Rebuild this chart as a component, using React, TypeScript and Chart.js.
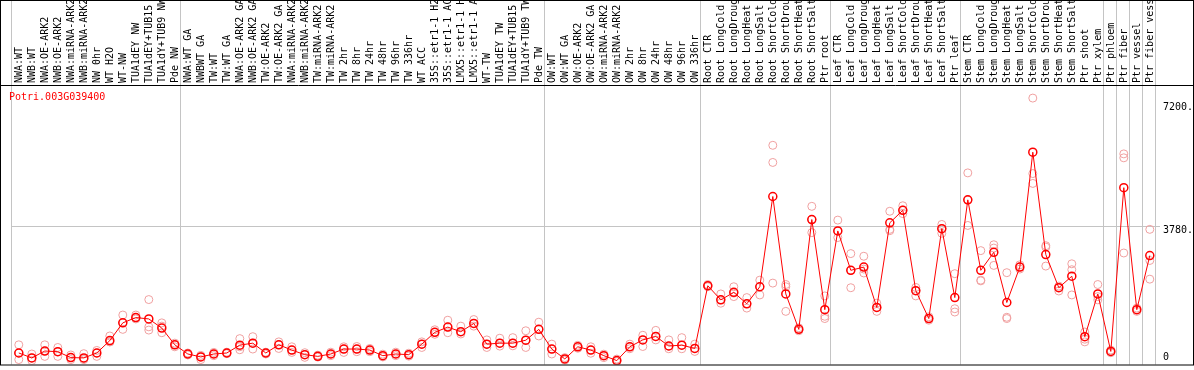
import React, { useEffect, useRef } from 'react';
import { Chart, registerables } from 'chart.js';

Chart.register(...registerables);

const GENE = 'Potri.003G039400';

const CATEGORIES = [
  'NWA:WT', 'NWB:WT', 'NWA:OE-ARK2', 'NWB:OE-ARK2', 'NWA:miRNA-ARK2', 'NWB:miRNA-ARK2',
  'NW 0hr', 'WT H2O', 'WT-NW', 'TUA1dEY NW', 'TUA1dEY+TUB15 NW', 'TUA1dY+TUB9 NW', 'Pde NW',
  'NWA:WT GA', 'NWBWT GA', 'TW:WT', 'TW:WT GA', 'NWA:OE-ARK2 GA', 'NWB:OE-ARK2 GA',
  'TW:OE-ARK2', 'TW:OE-ARK2 GA', 'NWA:miRNA-ARK2 GA', 'NWB:miRNA-ARK2 GA', 'TW:miRNA-ARK2',
  'TW:miRNA-ARK2 GA', 'TW 2hr', 'TW 8hr', 'TW 24hr', 'TW 48hr', 'TW 96hr', 'TW 336hr', 'WT ACC',
  '35S::etr1-1 H2O', '35S::etr1-1 ACC', 'LMX5::etr1-1 H2O', 'LMX5::etr1-1 ACC', 'WT-TW',
  'TUA1dEY TW', 'TUA1dEY+TUB15 TW', 'TUA1dY+TUB9 TW', 'Pde TW',
  'OW:WT', 'OW:WT GA', 'OW:OE-ARK2', 'OW:OE-ARK2 GA', 'OW:miRNA-ARK2', 'OW:miRNA-ARK2 GA',
  'OW 2hr', 'OW 8hr', 'OW 24hr', 'OW 48hr', 'OW 96hr', 'OW 336hr',
  'Root CTR', 'Root LongCold', 'Root LongDrought', 'Root LongHeat', 'Root LongSalt',
  'Root ShortCold', 'Root ShortDrought', 'Root ShortHeat', 'Root ShortSalt', 'Ptr root',
  'Leaf CTR', 'Leaf LongCold', 'Leaf LongDrought', 'Leaf LongHeat', 'Leaf LongSalt',
  'Leaf ShortCold', 'Leaf ShortDrought', 'Leaf ShortHeat', 'Leaf ShortSalt', 'Ptr leaf',
  'Stem CTR', 'Stem LongCold', 'Stem LongDrought', 'Stem LongHeat', 'Stem LongSalt',
  'Stem ShortCold', 'Stem ShortDrought', 'Stem ShortHeat', 'Stem ShortSalt', 'Ptr shoot',
  'Ptr xylem', 'Ptr phloem', 'Ptr fiber', 'Ptr vessel', 'Ptr fiber vessel',
];

const MEANS = [
  239, 102, 294, 275, 110, 102, 239, 585, 1079, 1227, 1189, 933, 467,
  211, 129, 211, 239, 458, 513, 239, 467, 321, 192, 145, 211, 349, 349, 321, 165, 211, 192, 486,
  815, 961, 832, 1062, 486, 513, 513, 596, 898,
  349, 74, 412, 321, 165, 27, 412, 604, 700, 434, 458, 365,
  2114, 1721, 1930, 1611, 2086, 4603, 1886, 898, 3961, 1447,
  3643, 2545, 2635, 1510, 3870, 4219, 1976, 1200, 3706, 1784,
  4510, 2545, 3047, 1647, 2635, 5839, 2984, 2059, 2380, 694, 1886,
  283, 4850, 1447, 2956,
];

const REPLICATES = [
  [467, 239, 55], [211, 102, 27], [467, 294, 145], [393, 275, 145], [184, 110, 55],
  [220, 82, 55], [310, 239, 145], [714, 549, 549], [1298, 1079, 898], [1298, 1227, 1189],
  [1729, 969, 878], [1079, 988, 804], [513, 467, 412],
  [239, 211, 184], [173, 137, 55], [255, 211, 165], [261, 239, 220], [640, 412, 329],
  [694, 513, 349], [261, 239, 211], [549, 467, 365], [412, 321, 255], [247, 192, 118],
  [178, 145, 124], [261, 211, 165], [412, 349, 255], [420, 349, 275], [365, 321, 275],
  [206, 165, 129], [261, 211, 165], [233, 192, 151], [549, 486, 393], [887, 815, 760],
  [1153, 961, 804], [988, 832, 769], [1172, 1062, 988], [604, 486, 393], [651, 513, 431],
  [667, 513, 439], [859, 596, 393], [1098, 898, 714],
  [486, 349, 211], [110, 74, 41], [453, 412, 371], [412, 321, 233], [206, 165, 110],
  [69, 27, 0], [486, 412, 357], [733, 604, 420], [870, 694, 604], [604, 431, 357],
  [667, 458, 357], [486, 365, 283],
  [2149, 2114, 2086], [1886, 1721, 1628], [2086, 1908, 1812], [1784, 1611, 1491],
  [2270, 2086, 1858], [6031, 5553, 2188], [2149, 2086, 1400], [942, 898, 859],
  [4329, 3961, 3596], [1831, 1263, 1200],
  [3945, 3643, 3459], [3011, 2545, 2059], [2937, 2580, 2471], [1628, 1510, 1400],
  [4192, 3687, 3651], [4345, 4227, 4126], [2067, 1976, 1831], [1249, 1200, 1153],
  [3824, 3706, 3577], [2451, 1474, 1381],
  [5262, 4502, 3796], [3094, 2270, 2251], [3258, 3165, 2682], [2479, 1235, 1200],
  [2698, 2635, 2580], [7348, 5243, 4968], [3231, 3192, 2663], [2105, 2059, 1968],
  [2726, 2561, 1858], [824, 623, 549], [2149, 1812, 1721],
  [321, 283, 247], [5792, 5682, 3028], [1491, 1447, 1400], [3687, 2819, 2298],
];

const Y_TICKS = [0, 3780, 7200];
const Y_TICK_LABELS = ['0', '3780.', '7200.'];
const GROUP_BOUNDARIES = [0, 13, 41, 53, 63, 73, 84, 85, 86, 87, 88];

const X_SHIFT = 0.6;
const Y_MIN = -82;
const Y_MAX = 7713;
const FONT = 'DejaVu Sans Mono';
const GRID = '#c4c4c4';

const decorPlugin = {
  id: 'decor',
  beforeDatasetsDraw(chart: any) {
    const { ctx, chartArea, scales } = chart;
    const xs = scales.x;
    ctx.save();
    ctx.strokeStyle = GRID;
    ctx.lineWidth = 1;
    GROUP_BOUNDARIES.forEach((b) => {
      const px = Math.round(xs.getPixelForValue(b - X_SHIFT)) + 0.5;
      ctx.beginPath();
      ctx.moveTo(px, 0);
      ctx.lineTo(px, chartArea.bottom);
      ctx.stroke();
    });
    ctx.restore();
  },
  afterDraw(chart: any) {
    const { ctx, chartArea, scales, width } = chart;
    const ys = scales.y;
    ctx.save();
    ctx.strokeStyle = '#000';
    ctx.lineWidth = 1;
    ctx.strokeRect(0.5, 0.5, width - 1, chartArea.bottom);
    ctx.beginPath();
    ctx.moveTo(0, Math.round(chartArea.top) + 0.5);
    ctx.lineTo(width, Math.round(chartArea.top) + 0.5);
    ctx.stroke();

    ctx.font = `10px "${FONT}"`;
    ctx.textBaseline = 'middle';
    ctx.textAlign = 'left';
    ctx.fillStyle = '#000';
    Y_TICKS.forEach((v, i) => {
      const py = Math.min(ys.getPixelForValue(v) + 4, chartArea.bottom - 7);
      ctx.fillText(Y_TICK_LABELS[i], chartArea.right + 8, py);
    });
    ctx.fillStyle = '#ff0000';
    ctx.fillText(GENE, 9, chartArea.top + 12);
    ctx.restore();
  },
};

export default function App() {
  const ref = useRef<HTMLCanvasElement | null>(null);
  useEffect(() => {
    if (!ref.current) return;
    const meanData = MEANS.map((y, x) => ({ x, y }));
    const repData: { x: number; y: number }[] = [];
    REPLICATES.forEach((arr, x) => arr.forEach((y) => repData.push({ x, y })));
    const chart = new Chart(ref.current, {
      type: 'line',
      data: {
        datasets: [
          {
            type: 'line',
            data: meanData,
            borderColor: '#ff0000',
            borderWidth: 1,
            pointRadius: 4,
            pointBorderWidth: 1.5,
            pointBorderColor: '#ff0000',
            pointBackgroundColor: 'rgba(255,255,255,0)',
            tension: 0,
            order: 1,
          } as any,
          {
            type: 'scatter',
            data: repData,
            showLine: false,
            pointRadius: 4,
            pointBorderWidth: 1,
            pointBorderColor: '#f0a0a0',
            pointBackgroundColor: 'rgba(255,255,255,0)',
            order: 2,
          } as any,
        ],
      },
      options: {
        responsive: false,
        devicePixelRatio: 1,
        animation: false,
        layout: { padding: { left: 11, right: 0, top: 0, bottom: 1 } },
        plugins: { legend: { display: false }, tooltip: { enabled: false } },
        scales: {
          x: {
            type: 'linear',
            position: 'top',
            min: -X_SHIFT,
            max: CATEGORIES.length - X_SHIFT,
            afterBuildTicks: (scale: any) => {
              scale.ticks = CATEGORIES.map((_, i) => ({ value: i }));
            },
            afterFit: (scale: any) => {
              scale.height = 85;
            },
            grid: { display: false, drawTicks: false },
            border: { display: false },
            ticks: {
              autoSkip: false,
              minRotation: 90,
              maxRotation: 90,
              padding: 2,
              labelOffset: 13,
              color: '#000',
              font: { family: FONT, size: 10 },
              callback: (v: any) => CATEGORIES[v as number] ?? '',
            },
          },
          y: {
            type: 'linear',
            position: 'right',
            min: Y_MIN,
            max: Y_MAX,
            afterBuildTicks: (scale: any) => {
              scale.ticks = Y_TICKS.map((v) => ({ value: v }));
            },
            afterFit: (scale: any) => {
              scale.width = 39;
            },
            grid: {
              color: (ctx: any) => (ctx.tick && ctx.tick.value === 3780 ? GRID : 'rgba(0,0,0,0)'),
              drawTicks: true,
              tickLength: 5,
            },
            border: { display: false },
            ticks: { display: false },
          },
        },
      },
      plugins: [decorPlugin],
    });
    return () => chart.destroy();
  }, []);
  return (
    <div style={{ position: 'absolute', left: 0, top: 0, width: 1194, height: 370, background: '#fff' }}>
      <canvas ref={ref} width={1194} height={370} style={{ display: 'block' }} />
    </div>
  );
}
